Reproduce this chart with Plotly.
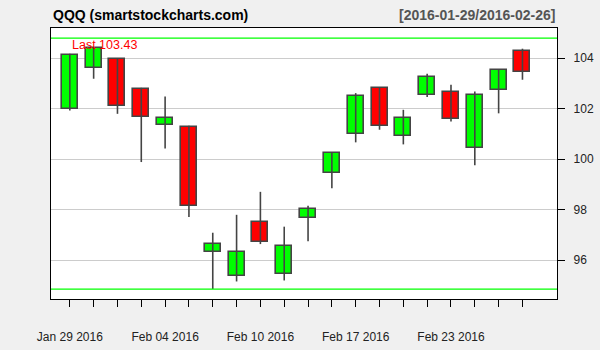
import plotly.graph_objects as go

dates = ["Jan 29 2016", "Feb 01 2016", "Feb 02 2016", "Feb 03 2016", "Feb 04 2016",
         "Feb 05 2016", "Feb 08 2016", "Feb 09 2016", "Feb 10 2016", "Feb 11 2016",
         "Feb 12 2016", "Feb 16 2016", "Feb 17 2016", "Feb 18 2016", "Feb 19 2016",
         "Feb 22 2016", "Feb 23 2016", "Feb 24 2016", "Feb 25 2016", "Feb 26 2016"]
opens  = [101.98, 103.59, 103.97, 102.78, 101.35, 101.27, 96.32, 95.37, 97.50, 95.45,
          97.66, 99.43, 100.99, 102.81, 100.90, 102.52, 102.67, 100.44, 102.73, 104.29]
highs  = [104.17, 104.42, 103.98, 102.82, 102.48, 101.32, 97.08, 97.79, 98.70, 97.32,
          98.15, 100.25, 102.61, 102.83, 101.95, 103.38, 102.94, 102.67, 103.53, 104.37]
lows   = [101.92, 103.18, 101.79, 99.88, 100.42, 97.70, 94.85, 95.15, 96.63, 95.19,
          96.74, 98.84, 100.66, 101.16, 100.58, 102.46, 101.49, 99.75, 101.81, 103.14]
closes = [104.13, 104.40, 102.12, 101.65, 101.62, 98.14, 96.63, 96.32, 96.71, 96.55,
          98.02, 100.24, 102.50, 101.29, 101.62, 103.25, 101.58, 102.53, 103.52, 103.43]
label_every = 4
y_ticks = [96, 98, 100, 102, 104]
band_top = 104.79
band_bottom = 94.85
last_price = 103.43

idx = list(range(len(dates)))

fig = go.Figure()

# wicks
wx, wy = [], []
for i in idx:
    wx += [i, i, None]
    wy += [lows[i], highs[i], None]
fig.add_trace(go.Scatter(x=wx, y=wy, mode="lines", line=dict(color="#444444", width=1.6),
                         hoverinfo="skip", showlegend=False))

# bodies
base = [min(o, c) for o, c in zip(opens, closes)]
height = [abs(c - o) for o, c in zip(opens, closes)]
colors = ["#00ff00" if c >= o else "#ff0000" for o, c in zip(opens, closes)]
fig.add_trace(go.Bar(x=idx, y=height, base=base, width=0.67,
                     marker=dict(color=colors, line=dict(color="#444444", width=1.6)),
                     showlegend=False))

fig.add_shape(type="line", xref="paper", x0=0, x1=1, y0=band_top, y1=band_top,
              line=dict(color="#00ff00", width=1.3))
fig.add_shape(type="line", xref="paper", x0=0, x1=1, y0=band_bottom, y1=band_bottom,
              line=dict(color="#00ff00", width=1.3))

fig.add_annotation(x=0.8 / 21.24 + 0.005, xref="paper", y=band_top, yref="y",
                   text="Last " + str(last_price), showarrow=False, xanchor="left",
                   yanchor="top", yshift=2, xshift=-3,
                   font=dict(family="Liberation Sans, Arial", size=12.5, color="#ff0000"))

fig.add_annotation(x=0, xref="paper", y=1, yref="paper", yshift=13, text="<b>QQQ (smartstockcharts.com)</b>",
                   showarrow=False, xanchor="left", yanchor="middle",
                   font=dict(family="Liberation Sans, Arial", size=14, color="#000000"))
fig.add_annotation(x=1, xref="paper", y=1, yref="paper", yshift=13, text="<b>[" + "2016-01-29/2016-02-26" + "]</b>",
                   showarrow=False, xanchor="right", yanchor="middle",
                   font=dict(family="Liberation Sans, Arial", size=14, color="#555555"))

ticktext = [d if i % label_every == 0 else "" for i, d in enumerate(dates)]

fig.update_layout(
    width=600, height=350,
    margin=dict(l=51, r=43, t=28, b=51, autoexpand=False),
    paper_bgcolor="#f0f0f0", plot_bgcolor="#ffffff",
    bargap=0,
    font=dict(family="Liberation Sans, Arial", size=12, color="#222222"),
    xaxis=dict(range=[-0.79, 20.45], tickmode="array", tickvals=idx, ticktext=ticktext,
               ticks="outside", ticklen=7, tickcolor="#000000", tickwidth=1,
               showgrid=False, zeroline=False, showline=True, linecolor="#000000",
               linewidth=1.3, mirror=True, ticklabelstandoff=19, tickangle=0,
               automargin=False, tickfont=dict(size=12, color="#222222")),
    yaxis=dict(range=[94.455, 105.19], side="right", tickmode="array", tickvals=y_ticks,
               ticks="outside", ticklen=7, tickcolor="#000000", tickwidth=1,
               showgrid=True, gridcolor="#cccccc", gridwidth=1, zeroline=False,
               showline=True, linecolor="#000000", linewidth=1.3, mirror=True,
               automargin=False, ticklabelstandoff=6, tickfont=dict(size=12, color="#222222")),
)

fig.write_html("out.html")
